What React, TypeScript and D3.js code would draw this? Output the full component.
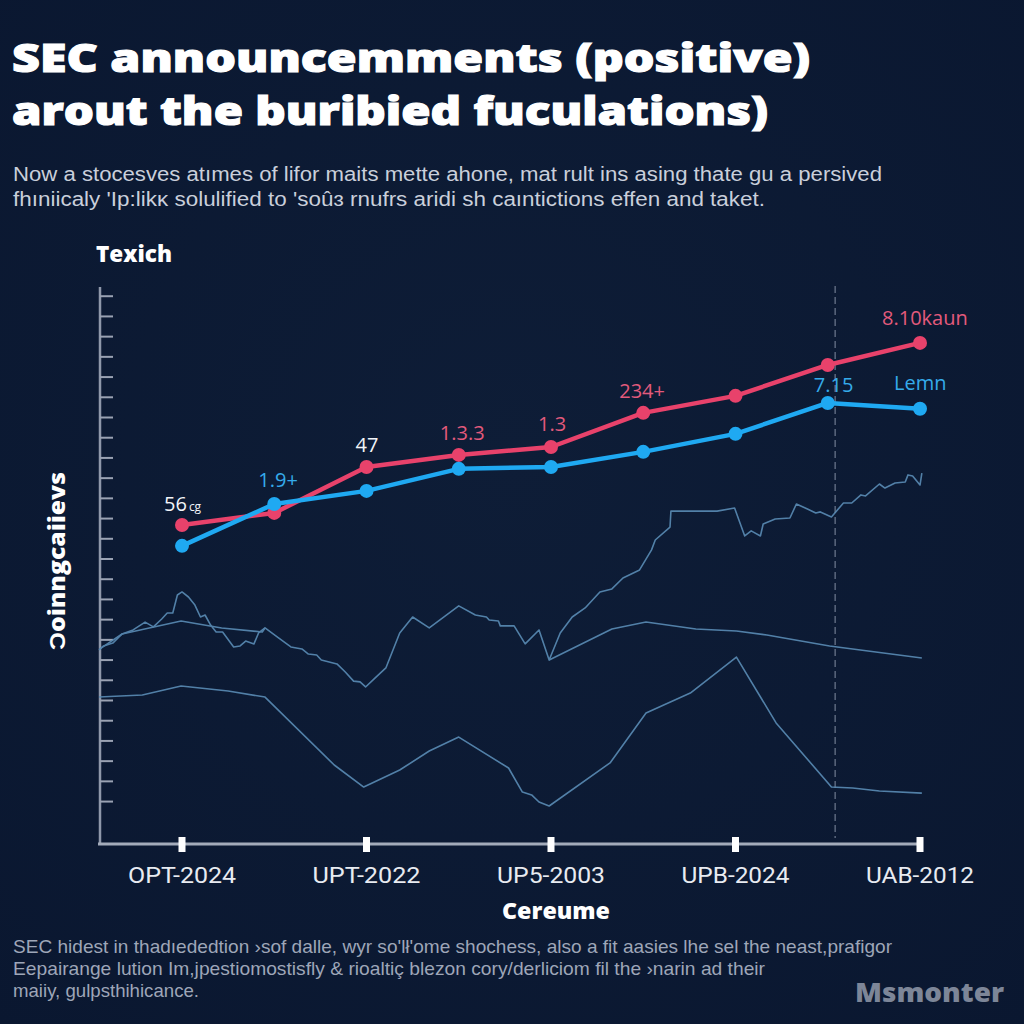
import React from 'react';
import * as d3 from 'd3';

// ---------- DATA ----------
const categories = ['OPT-2024', 'UPT-2022', 'UP5-2003', 'UPB-2024', 'UAB-2012'];
const categoryPositions = [0, 2, 4, 6, 8];
const pointPositions = [0, 1, 2, 3, 4, 5, 6, 7, 8];
const redValues = [15.68, 16.28, 18.55, 19.15, 19.54, 21.23, 22.07, 23.6, 24.69];
const blueValues = [14.65, 16.72, 17.37, 18.46, 18.55, 19.3, 20.19, 21.72, 21.43];
const yTickValues = d3.range(2, 28, 1);

// annotation texts: [text, series, point index]
const labelTexts = ['56', '1.9+', '47', '1.3.3', '1.3', '234+', '8.10kaun', '7.15', 'Lemn'];
const labelSeries = ['white', 'blue', 'white', 'red', 'red', 'red', 'red', 'blue', 'blue'];
const labelAnchorSeries = ['red', 'blue', 'red', 'red', 'red', 'red', 'red', 'blue', 'blue'];
const labelPoints = [0, 1, 2, 3, 4, 5, 8, 7, 8];

// background (thin) series, x in same index units, y in value units
const bgJagged: [number, number][] = [
  [-0.9, 9.5], [-0.85, 9.7], [-0.75, 9.84], [-0.65, 10.29], [-0.53, 10.49], [-0.4, 10.88],
  [-0.31, 10.64], [-0.22, 11.03], [-0.16, 11.33], [-0.1, 11.33], [-0.05, 12.22], [0.0, 12.37],
  [0.07, 12.12], [0.14, 11.72], [0.2, 11.13], [0.25, 11.23], [0.31, 10.73], [0.37, 10.39],
  [0.44, 10.39], [0.56, 9.65], [0.63, 9.7], [0.69, 9.94], [0.78, 9.8], [0.83, 10.34],
  [0.9, 10.59], [1.05, 10.09], [1.18, 9.65], [1.3, 9.55], [1.37, 9.3], [1.46, 9.25],
  [1.51, 9.0], [1.68, 8.81], [1.77, 8.41], [1.86, 7.96], [1.93, 7.92], [1.99, 7.67],
  [2.08, 8.06], [2.21, 8.61], [2.36, 10.34], [2.5, 11.13], [2.68, 10.59], [3.0, 11.68],
  [3.18, 11.23], [3.3, 11.13], [3.33, 10.98], [3.43, 10.93], [3.45, 10.69], [3.6, 10.69],
  [3.72, 9.8], [3.87, 10.49], [3.98, 9.0], [4.1, 10.34], [4.23, 11.13], [4.37, 11.58],
  [4.53, 12.37], [4.66, 12.52], [4.78, 13.06], [4.96, 13.46], [5.09, 14.45], [5.13, 14.94],
  [5.29, 15.58], [5.3, 16.37], [5.8, 16.37], [5.99, 16.52], [6.1, 15.14], [6.17, 15.39],
  [6.27, 15.14], [6.3, 15.73], [6.43, 15.98], [6.59, 16.03], [6.66, 16.72], [6.78, 16.47],
  [6.87, 16.28], [6.92, 16.33], [7.04, 16.08], [7.17, 16.77], [7.26, 16.77], [7.36, 17.17],
  [7.41, 17.12], [7.56, 17.71], [7.62, 17.51], [7.73, 17.76], [7.84, 17.81], [7.87, 18.16],
  [7.92, 18.11], [8.0, 17.66], [8.02, 18.25],
];
const bgSmoothLeft: [number, number][] = [
  [-0.89, 9.55], [-0.65, 10.29], [-0.01, 10.93], [0.43, 10.59], [0.87, 10.39], [0.9, 10.59],
];
const bgSmoothRight: [number, number][] = [
  [3.98, 9.0], [4.66, 10.54], [5.03, 10.88], [5.57, 10.54], [6.01, 10.44], [6.34, 10.24],
  [7.02, 9.7], [8.02, 9.1],
];
const bgLower: [number, number][] = [
  [-0.9, 7.17], [-0.43, 7.27], [-0.01, 7.72], [0.5, 7.47], [0.9, 7.17], [1.65, 3.81],
  [1.97, 2.72], [2.36, 3.56], [2.68, 4.5], [3.0, 5.19], [3.54, 3.66], [3.69, 2.47],
  [3.79, 2.33], [3.87, 1.98], [3.98, 1.78], [4.64, 3.91], [5.03, 6.38], [5.51, 7.37],
  [6.01, 9.15], [6.44, 5.89], [7.04, 2.72], [7.27, 2.67], [7.56, 2.52], [8.02, 2.42],
];
const markerX = 7.08;

const titleLines = ['SEC announcemments (positive)', 'arout the buribied fuculations)'];
const subtitleLines = [
  'Now a stocesves atımes of lifor maits mette ahone, mat rult ins asing thate gu a persived',
  "fhıniicaly 'Ip:likĸ solulified to 'soûɜ rnufrs aridi sh caıntictions effen and taket.",
];
const footerLines = [
  "SEC hidest in thadıededtion ›sof dalle, wyr so'lł'ome shochess, also a fit aasies lhe sel the neast,prafigor",
  'Eepairange lution Im,jpestiomostisfly & rioaltiç blezon cory/derliciom fil the ›narin ad their',
  'maiiy, gulpsthihicance.',
];
const yAxisTitle = 'Ɔoinngcaiievs';
const xAxisTitle = 'Cereume';
const topLabel = 'Texich';
const watermark = 'Msmonter';

// ---------- LAYOUT ----------
const W = 1024;
const H = 1024;
const RED = '#e8426b';
const BLUE = '#1fa9f2';
const THIN = '#5a8cb5';
const labelOffsets: [number, number][] = [
  [-18, -14], [-16, -17], [-11, -15], [-19, -15], [-13, -16], [-24, -15], [-38, -18], [-14, -11], [-26, -19],
];
const titleWidths = [798, 756];
const subtitleWidths = [869, 752];
const footerWidths = [879, 752, 186];

export default function App() {
  const x = d3.scaleLinear().domain([0, 8]).range([182, 920]);
  const y = d3.scaleLinear().domain([0, 28]).range([842, 276]);
  const line = d3.line<[number, number]>().x((d) => x(d[0])).y((d) => y(d[1]));
  const redPts: [number, number][] = pointPositions.map((p, i) => [p, redValues[i]]);
  const bluePts: [number, number][] = pointPositions.map((p, i) => [p, blueValues[i]]);
  const colorOf = (s: string) => (s === 'red' ? '#e35a7c' : s === 'blue' ? '#35abeb' : '#f2f4f8');
  const xAxisY = 844;

  return (
    <svg width={W} height={H} style={{ position: 'absolute', left: 0, top: 0, display: 'block' }}>
      <defs>
        <radialGradient id="bgGrad" cx="50%" cy="45%" r="75%">
          <stop offset="0%" stopColor="#0e1d37" />
          <stop offset="100%" stopColor="#0a1730" />
        </radialGradient>
      </defs>
      <rect x={0} y={0} width={W} height={H} fill="url(#bgGrad)" />

      {/* title */}
      {titleLines.map((t, i) => (
        <text key={t} x={12} y={72 + i * 53} fill="#ffffff" stroke="#ffffff" strokeWidth={1.1}
          fontFamily="'Open Sans', sans-serif" fontWeight={800}
          fontSize={38} textLength={titleWidths[i]} lengthAdjust="spacingAndGlyphs">{t}</text>
      ))}
      {subtitleLines.map((t, i) => (
        <text key={t} x={13} y={181 + i * 25} fill="#c9cfdb" fontFamily="'Liberation Sans', Arial, sans-serif"
          fontSize={20} textLength={subtitleWidths[i]} lengthAdjust="spacingAndGlyphs">{t}</text>
      ))}

      <text x={96} y={262} fill="#ffffff" fontFamily="'Open Sans', sans-serif" fontWeight={800} fontSize={22}
        textLength={76} lengthAdjust="spacingAndGlyphs">{topLabel}</text>

      {/* y axis */}
      <line x1={100} x2={100} y1={y(27.45)} y2={xAxisY} stroke="#8f98aa" strokeWidth={2.5} />
      {yTickValues.map((v) => (
        <line key={v} x1={100} x2={113} y1={y(v)} y2={y(v)} stroke="#9aa2b3" strokeWidth={2} />
      ))}
      <text transform={`translate(65,561) rotate(-90)`} textAnchor="middle" fill="#ffffff"
        fontFamily="'Open Sans', sans-serif" fontWeight={800} fontSize={22}
        textLength={178} lengthAdjust="spacingAndGlyphs">{yAxisTitle}</text>

      {/* dashed marker */}
      <line x1={x(markerX)} x2={x(markerX)} y1={y(27.5)} y2={838} stroke="#6f7b90" strokeWidth={1.2} strokeDasharray="7 4" />

      {/* background lines */}
      <g fill="none" stroke={THIN} strokeWidth={1.6} strokeLinejoin="round" opacity={0.9}>
        <path d={line(bgLower) || ''} />
        <path d={line(bgSmoothLeft) || ''} />
        <path d={line(bgSmoothRight) || ''} />
        <path d={line(bgJagged) || ''} />
      </g>

      {/* x axis */}
      <line x1={98} x2={923} y1={xAxisY} y2={xAxisY} stroke="#a3abba" strokeWidth={3} />
      {categoryPositions.map((p, i) => (
        <g key={categories[i]}>
          <rect x={x(p) - 3.5} y={xAxisY - 7} width={7} height={15} fill="#ffffff" />
          <text x={x(p)} y={883} textAnchor="middle" fill="#e8ebf1" fontFamily="Roboto, sans-serif" fontSize={22}
            textLength={108} lengthAdjust="spacingAndGlyphs">{categories[i]}</text>
        </g>
      ))}
      <text x={556} y={919} textAnchor="middle" fill="#ffffff" fontFamily="'Open Sans', sans-serif" fontWeight={800} fontSize={22}
        textLength={108} lengthAdjust="spacingAndGlyphs">{xAxisTitle}</text>

      {/* main series */}
      <path d={line(redPts) || ''} fill="none" stroke={RED} strokeWidth={4.5} strokeLinejoin="round" />
      {redPts.map((d, i) => (
        <circle key={'r' + i} cx={x(d[0])} cy={y(d[1])} r={7} fill={RED} />
      ))}
      <path d={line(bluePts) || ''} fill="none" stroke={BLUE} strokeWidth={4.5} strokeLinejoin="round" />
      {bluePts.map((d, i) => (
        <circle key={'b' + i} cx={x(d[0])} cy={y(d[1])} r={7} fill={BLUE} />
      ))}

      {/* annotations */}
      {labelTexts.map((t, i) => {
        const vals = labelAnchorSeries[i] === 'red' ? redValues : blueValues;
        const p = labelPoints[i];
        return (
          <text key={i} x={x(pointPositions[p]) + labelOffsets[i][0]} y={y(vals[p]) + labelOffsets[i][1]}
            fill={colorOf(labelSeries[i])} fontFamily="'Open Sans', sans-serif" fontSize={20}>
            {t}
            {i === 0 ? <tspan fontSize={12} dx={2}>cg</tspan> : null}
          </text>
        );
      })}

      {/* footer */}
      {footerLines.map((t, i) => (
        <text key={t} x={13} y={953 + i * 22} fill="#9ea6b8" fontFamily="'Liberation Sans', Arial, sans-serif"
          fontSize={19} textLength={footerWidths[i]} lengthAdjust="spacingAndGlyphs">{t}</text>
      ))}
      <text x={855} y={1002} fill="#7d8698" fontFamily="'Open Sans', sans-serif" fontWeight={800} fontSize={26}
        textLength={149} lengthAdjust="spacingAndGlyphs">{watermark}</text>
    </svg>
  );
}
